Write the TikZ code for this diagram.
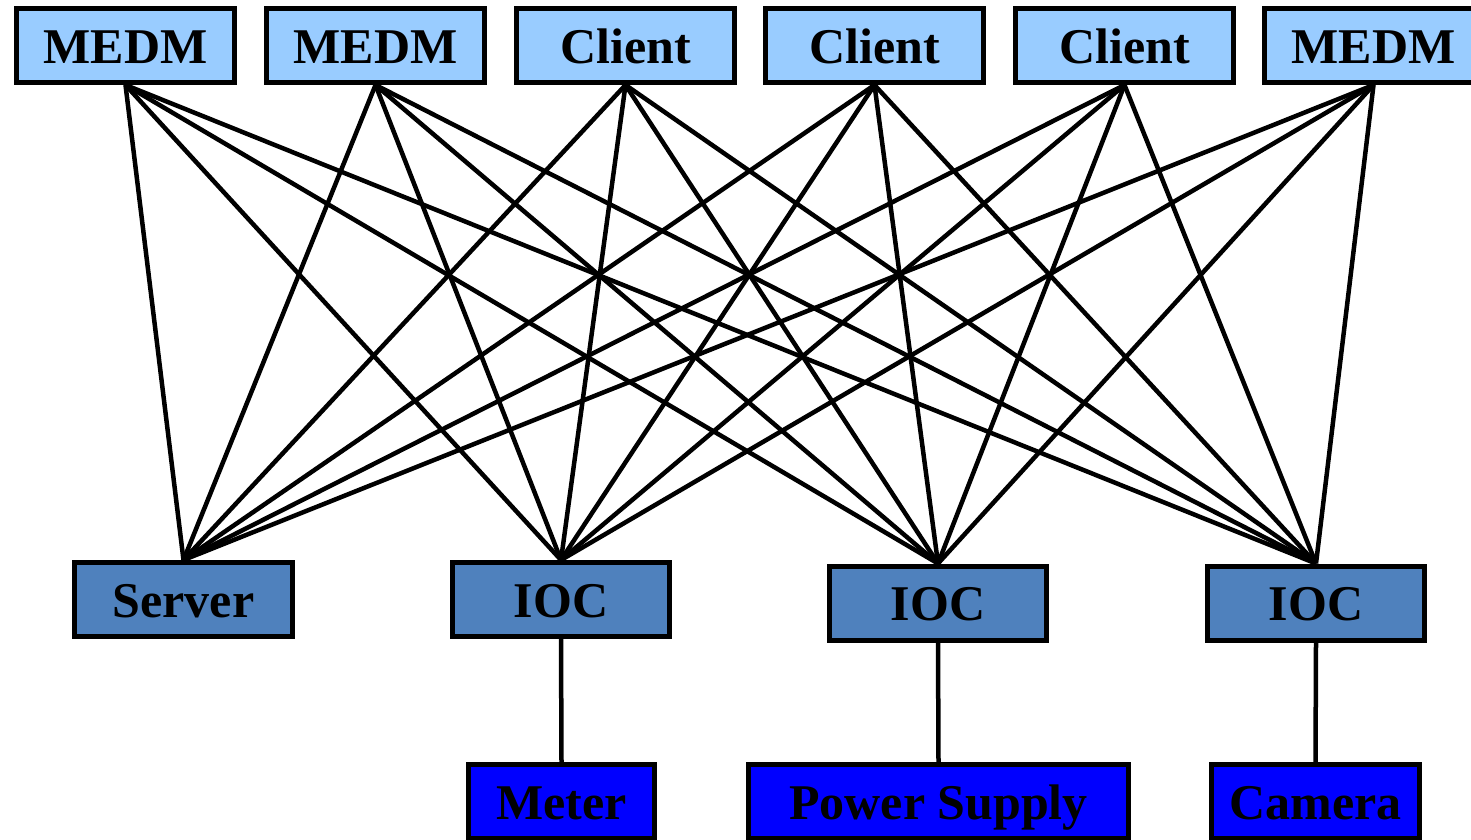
\documentclass[tikz,border=0pt]{standalone}
\usepackage{fontspec}
\setmainfont{Liberation Serif}
\definecolor{clientblue}{HTML}{99CCFF}
\definecolor{iocblue}{HTML}{4F81BD}
\definecolor{devblue}{HTML}{0000FF}
\begin{document}
\begin{tikzpicture}[x=1pt,y=-1pt,
  box/.style={draw=black, line width=5pt, inner sep=0pt, minimum height=74pt,
    text height=35pt, text depth=0pt,
    font=\fontsize{50}{50}\selectfont\bfseries},
  topbox/.style={box, fill=clientblue, minimum width=218pt},
  midbox/.style={box, fill=iocblue, minimum width=217.5pt},
  devbox/.style={box, fill=devblue},
  link/.style={draw=black, line width=4.5pt}]
\useasboundingbox (0,0) rectangle (1471,839);
\clip (0,0) rectangle (1471,839);

% client tier
\node[topbox] (t1) at (125.5,45.5) {MEDM};
\node[topbox] (t2) at (375.5,45.5) {MEDM};
\node[topbox] (t3) at (625.5,45.5) {Client};
\node[topbox] (t4) at (874.5,45.5) {Client};
\node[topbox] (t5) at (1124.5,45.5) {Client};
\node[topbox] (t6) at (1373.5,45.5) {MEDM};

% server tier
\node[midbox] (m1) at (183.5,599.5) {Server};
\node[midbox] (m2) at (561,599.5) {IOC};
\node[midbox] (m3) at (938,603) {IOC};
\node[midbox] (m4) at (1316,603) {IOC};

% hardware
\node[devbox, minimum width=186pt] (d1) at (561.5,801.5) {Meter};
\node[devbox, minimum width=380pt] (d2) at (938.5,801.5) {Power Supply};
\node[devbox, minimum width=208pt] (d3) at (1315.5,801.5) {Camera};

% every client talks to every server
\foreach \t in {t1,t2,t3,t4,t5,t6}
  \foreach \m in {m1,m2,m3,m4}
    \draw[link] (\t.south) -- (\m.north);

% IOC to hardware
\draw[link] (m2.south) -- (d1.north);
\draw[link] (m3.south) -- (d2.north);
\draw[link] (m4.south) -- (d3.north);
\end{tikzpicture}
\end{document}
